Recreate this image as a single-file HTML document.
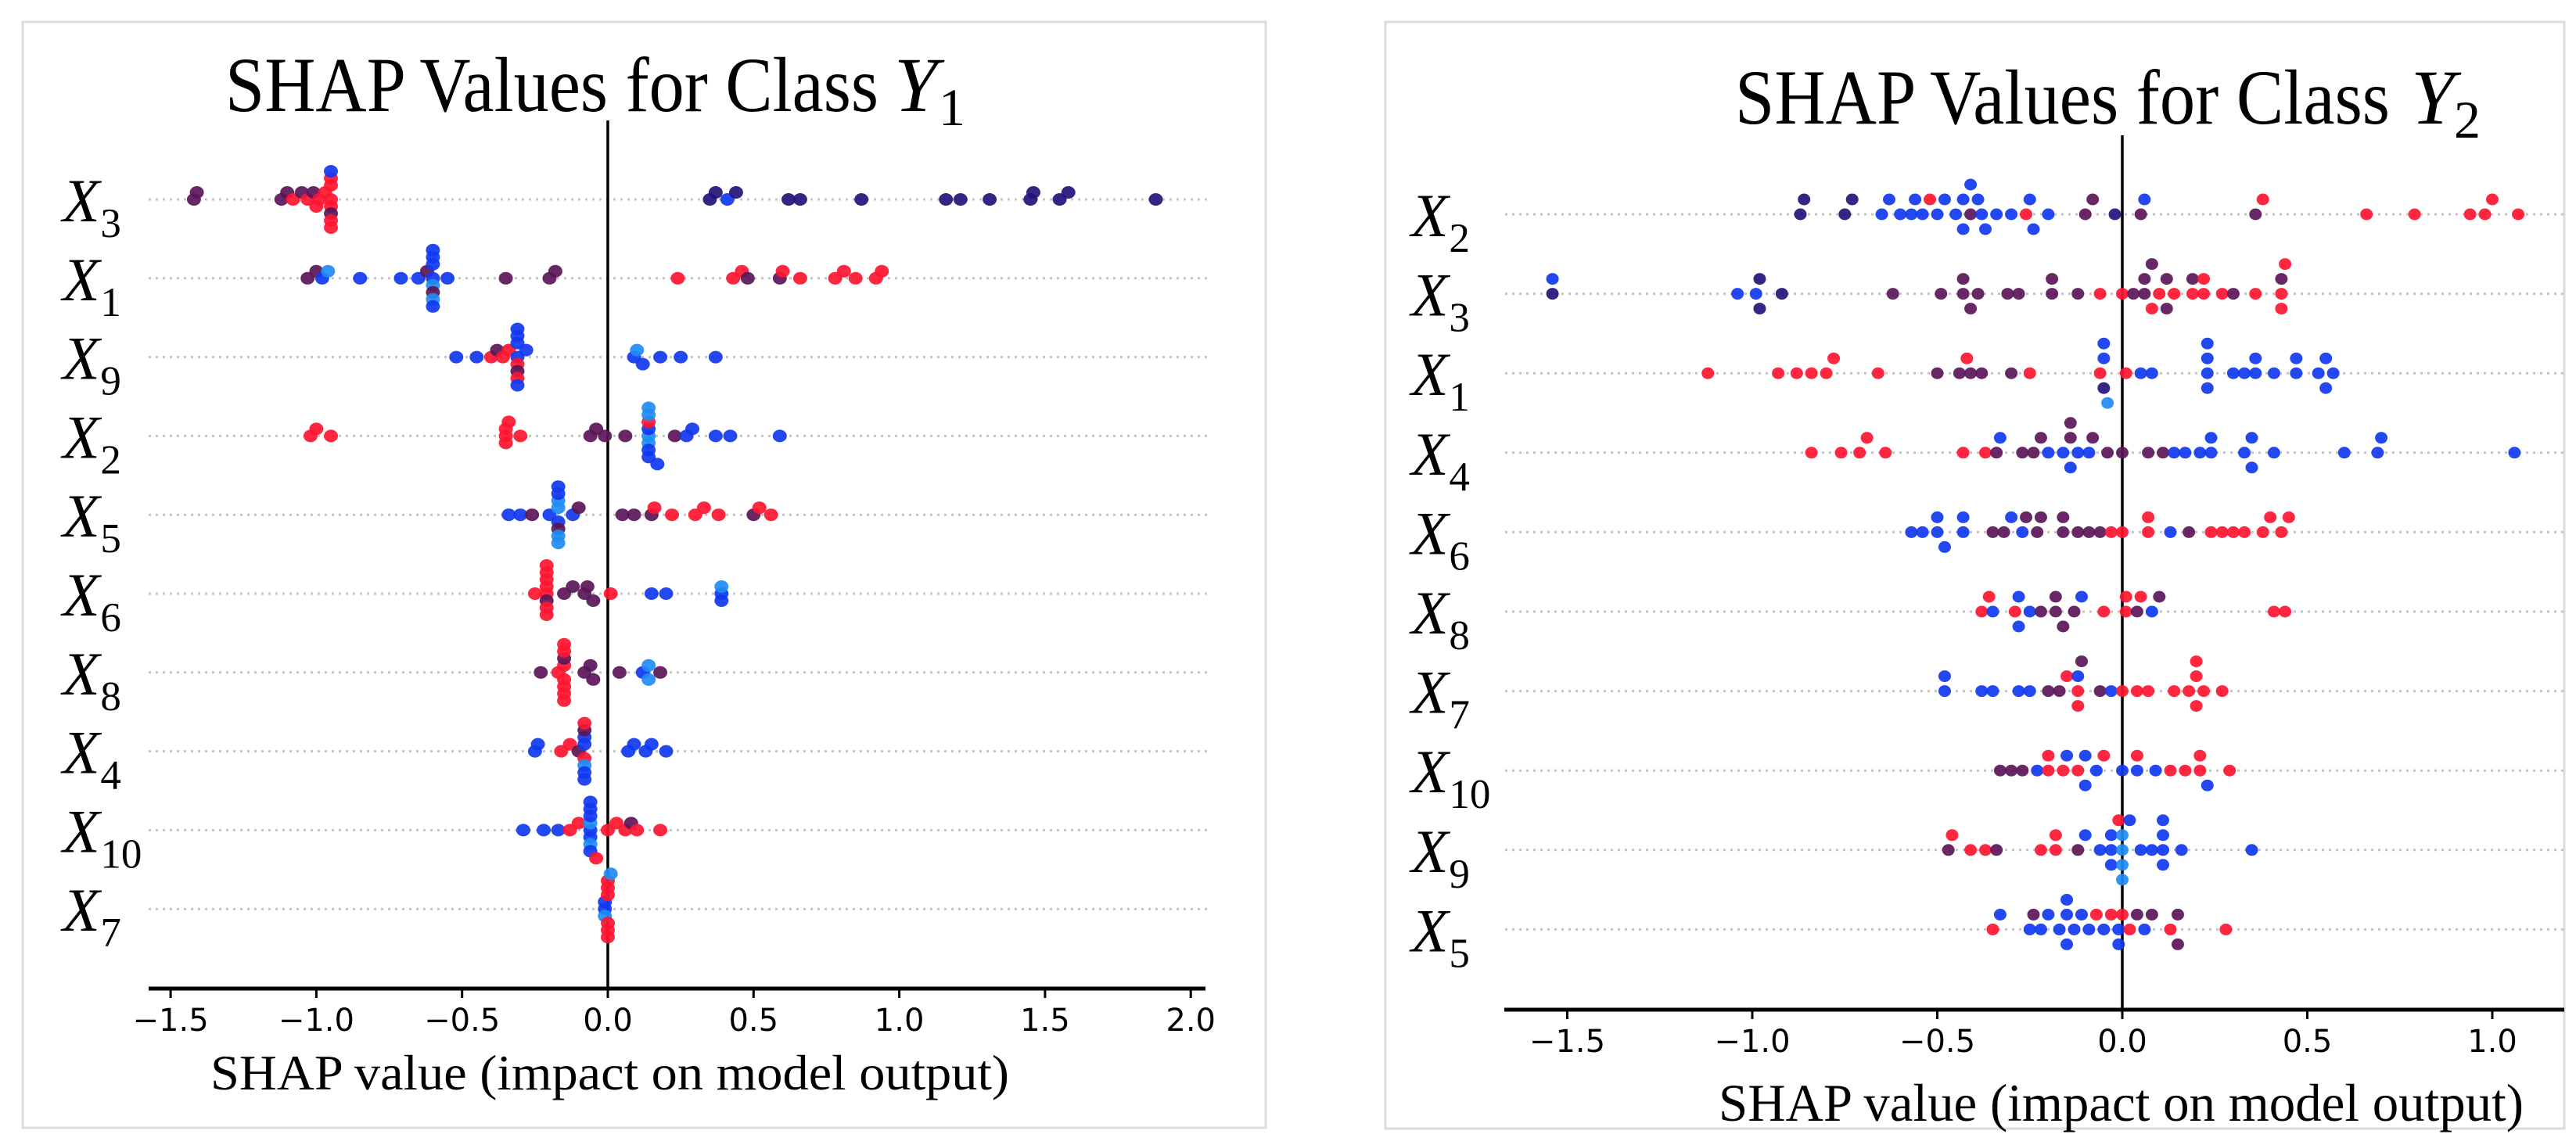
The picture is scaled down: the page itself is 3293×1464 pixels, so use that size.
<!DOCTYPE html>
<html><head><meta charset="utf-8"><title>SHAP Values</title>
<style>
html,body{margin:0;padding:0;background:#fff;}
svg{display:block;}
.tick{font-family:"DejaVu Sans","Liberation Sans",sans-serif;font-size:40px;fill:#000;}
.serif{font-family:"Liberation Serif",serif;fill:#000;}
</style></head>
<body>
<svg id="chart" width="3293" height="1464" viewBox="0 0 3293 1464" xmlns="http://www.w3.org/2000/svg">
<rect x="0" y="0" width="3293" height="1464" fill="#fff"/>
<rect x="29" y="28" width="1589" height="1414" fill="none" stroke="#dcdcdc" stroke-width="3"/>
<rect x="1771" y="28" width="1507" height="1415" fill="none" stroke="#dcdcdc" stroke-width="3"/>
<g id="left"></g>
<g id="right"></g>
</svg>
<script>
// ---------- Data: Class Y1 ----------
const y1Features = ["3","1","9","2","5","6","8","4","10","7"];
const y1Ticks = [-1.5,-1.0,-0.5,0.0,0.5,1.0,1.5,2.0];
const y1TickLabels = ["\u22121.5","\u22121.0","\u22120.5","0.0","0.5","1.0","1.5","2.0"];
const y1_X3 = [[-1.42,"p"],[-1.41,"p"],[-1.12,"p"],[-1.10,"p"],[-1.08,"r"],[-1.05,"p"],[-1.03,"r"],[-1.01,"p"],[-1.0,"r"],[-0.99,"r"],[-0.97,"r"],[-0.95,"r"],[-0.95,"r"],[-0.95,"r"],[-0.95,"p"],[-0.95,"r"],[-0.95,"r"],[-0.95,"b"],[-0.95,"r"],[0.35,"n"],[0.37,"n"],[0.41,"b"],[0.44,"n"],[0.62,"n"],[0.66,"n"],[0.87,"n"],[1.16,"n"],[1.21,"n"],[1.31,"n"],[1.45,"n"],[1.46,"n"],[1.55,"n"],[1.58,"n"],[1.88,"n"]];
const y1_X1 = [[-1.03,"p"],[-1.0,"p"],[-0.98,"b"],[-0.96,"c"],[-0.85,"b"],[-0.71,"b"],[-0.65,"b"],[-0.62,"p"],[-0.60,"b"],[-0.60,"c"],[-0.60,"b"],[-0.60,"p"],[-0.60,"b"],[-0.60,"c"],[-0.60,"b"],[-0.60,"b"],[-0.55,"b"],[-0.35,"p"],[-0.2,"p"],[-0.18,"p"],[0.24,"r"],[0.43,"r"],[0.46,"r"],[0.48,"p"],[0.59,"p"],[0.6,"r"],[0.66,"r"],[0.78,"r"],[0.81,"r"],[0.85,"r"],[0.92,"r"],[0.94,"r"]];
const y1_X9 = [[-0.52,"b"],[-0.45,"b"],[-0.40,"r"],[-0.38,"p"],[-0.36,"r"],[-0.34,"r"],[-0.31,"b"],[-0.31,"r"],[-0.31,"b"],[-0.31,"p"],[-0.31,"b"],[-0.31,"r"],[-0.31,"b"],[-0.31,"b"],[-0.28,"b"],[0.09,"b"],[0.10,"c"],[0.12,"b"],[0.18,"b"],[0.25,"b"],[0.37,"b"]];
const y1_X2 = [[-1.02,"r"],[-1.0,"r"],[-0.95,"r"],[-0.35,"r"],[-0.35,"r"],[-0.35,"r"],[-0.34,"r"],[-0.3,"r"],[-0.06,"p"],[-0.04,"p"],[-0.01,"p"],[0.06,"p"],[0.14,"c"],[0.14,"b"],[0.14,"c"],[0.14,"r"],[0.14,"b"],[0.14,"c"],[0.14,"b"],[0.14,"c"],[0.17,"b"],[0.23,"p"],[0.27,"b"],[0.29,"b"],[0.37,"b"],[0.42,"b"],[0.59,"b"]];
const y1_X5 = [[-0.34,"b"],[-0.3,"b"],[-0.26,"p"],[-0.2,"b"],[-0.17,"c"],[-0.17,"b"],[-0.17,"c"],[-0.17,"p"],[-0.17,"b"],[-0.17,"c"],[-0.17,"b"],[-0.17,"c"],[-0.12,"b"],[-0.1,"p"],[0.05,"p"],[0.09,"p"],[0.15,"p"],[0.16,"r"],[0.22,"r"],[0.3,"r"],[0.33,"r"],[0.38,"r"],[0.5,"p"],[0.52,"r"],[0.56,"r"]];
const y1_X6 = [[-0.25,"r"],[-0.21,"r"],[-0.21,"r"],[-0.21,"p"],[-0.21,"r"],[-0.21,"r"],[-0.21,"r"],[-0.21,"r"],[-0.21,"r"],[-0.15,"p"],[-0.12,"p"],[-0.08,"p"],[-0.07,"p"],[-0.05,"p"],[0.01,"r"],[0.15,"b"],[0.2,"b"],[0.39,"b"],[0.39,"c"],[0.39,"b"]];
const y1_X8 = [[-0.23,"p"],[-0.17,"r"],[-0.15,"r"],[-0.15,"r"],[-0.15,"p"],[-0.15,"r"],[-0.15,"r"],[-0.15,"r"],[-0.15,"r"],[-0.15,"r"],[-0.08,"p"],[-0.06,"p"],[-0.05,"p"],[0.04,"p"],[0.12,"b"],[0.14,"c"],[0.14,"c"],[0.18,"p"]];
const y1_X4 = [[-0.25,"b"],[-0.24,"b"],[-0.16,"r"],[-0.13,"r"],[-0.1,"p"],[-0.08,"b"],[-0.08,"r"],[-0.08,"b"],[-0.08,"c"],[-0.08,"p"],[-0.08,"b"],[-0.08,"r"],[-0.08,"b"],[0.07,"b"],[0.09,"b"],[0.13,"b"],[0.15,"b"],[0.2,"b"]];
const y1_X10 = [[-0.29,"b"],[-0.22,"b"],[-0.17,"b"],[-0.13,"r"],[-0.1,"r"],[-0.06,"b"],[-0.06,"c"],[-0.06,"b"],[-0.06,"b"],[-0.06,"c"],[-0.06,"b"],[-0.06,"b"],[-0.06,"b"],[-0.04,"r"],[0.0,"r"],[0.03,"r"],[0.06,"r"],[0.08,"p"],[0.1,"r"],[0.18,"r"]];
const y1_X7 = [[-0.01,"b"],[-0.01,"b"],[-0.01,"c"],[0.0,"r"],[0.0,"r"],[0.0,"r"],[0.0,"r"],[0.0,"r"],[0.0,"r"],[0.01,"c"]];
const y1Rows = [y1_X3,y1_X1,y1_X9,y1_X2,y1_X5,y1_X6,y1_X8,y1_X4,y1_X10,y1_X7];

// ---------- Data: Class Y2 ----------
const y2Features = ["2","3","1","4","6","8","7","10","9","5"];
const y2Ticks = [-1.5,-1.0,-0.5,0.0,0.5,1.0];
const y2TickLabels = ["\u22121.5","\u22121.0","\u22120.5","0.0","0.5","1.0"];
const y2_X2 = [[-0.87,"n"],[-0.86,"n"],[-0.75,"n"],[-0.73,"n"],[-0.65,"b"],[-0.63,"b"],[-0.6,"b"],[-0.57,"b"],[-0.56,"b"],[-0.54,"b"],[-0.52,"r"],[-0.5,"b"],[-0.48,"b"],[-0.45,"b"],[-0.43,"b"],[-0.43,"b"],[-0.41,"p"],[-0.41,"b"],[-0.39,"b"],[-0.38,"b"],[-0.37,"b"],[-0.34,"b"],[-0.3,"b"],[-0.26,"r"],[-0.25,"b"],[-0.24,"b"],[-0.2,"b"],[-0.1,"p"],[-0.08,"p"],[-0.02,"n"],[0.05,"p"],[0.06,"b"],[0.36,"p"],[0.38,"r"],[0.66,"r"],[0.79,"r"],[0.94,"r"],[0.98,"r"],[1.0,"r"],[1.07,"r"]];
const y2_X3 = [[-1.54,"n"],[-1.54,"b"],[-1.04,"b"],[-0.99,"b"],[-0.98,"n"],[-0.98,"n"],[-0.92,"n"],[-0.62,"p"],[-0.49,"p"],[-0.43,"p"],[-0.43,"p"],[-0.41,"p"],[-0.39,"p"],[-0.31,"p"],[-0.28,"p"],[-0.19,"p"],[-0.19,"p"],[-0.12,"p"],[-0.06,"r"],[0.0,"r"],[0.03,"p"],[0.06,"p"],[0.06,"p"],[0.08,"r"],[0.08,"p"],[0.1,"r"],[0.12,"p"],[0.12,"p"],[0.14,"r"],[0.19,"r"],[0.19,"p"],[0.22,"r"],[0.22,"r"],[0.27,"r"],[0.3,"p"],[0.36,"r"],[0.43,"r"],[0.43,"p"],[0.43,"r"],[0.44,"r"]];
const y2_X1 = [[-1.12,"r"],[-0.93,"r"],[-0.88,"r"],[-0.84,"r"],[-0.8,"r"],[-0.78,"r"],[-0.66,"r"],[-0.5,"p"],[-0.44,"p"],[-0.42,"r"],[-0.41,"p"],[-0.38,"p"],[-0.3,"p"],[-0.25,"r"],[-0.06,"r"],[-0.05,"b"],[-0.05,"n"],[-0.05,"b"],[-0.04,"c"],[0.01,"r"],[0.05,"b"],[0.08,"b"],[0.23,"b"],[0.23,"b"],[0.23,"b"],[0.23,"b"],[0.3,"b"],[0.33,"b"],[0.36,"b"],[0.36,"b"],[0.41,"b"],[0.47,"b"],[0.47,"b"],[0.53,"b"],[0.55,"b"],[0.55,"b"],[0.57,"b"]];
const y2_X4 = [[-0.84,"r"],[-0.76,"r"],[-0.71,"r"],[-0.69,"r"],[-0.64,"r"],[-0.43,"r"],[-0.37,"r"],[-0.34,"p"],[-0.33,"b"],[-0.27,"p"],[-0.24,"p"],[-0.22,"p"],[-0.2,"b"],[-0.16,"b"],[-0.14,"p"],[-0.14,"b"],[-0.14,"p"],[-0.12,"b"],[-0.09,"b"],[-0.08,"p"],[-0.04,"p"],[0.0,"p"],[0.07,"p"],[0.11,"p"],[0.14,"b"],[0.17,"b"],[0.21,"b"],[0.24,"b"],[0.24,"b"],[0.33,"b"],[0.35,"b"],[0.35,"b"],[0.41,"b"],[0.6,"b"],[0.69,"b"],[0.7,"b"],[1.06,"b"]];
const y2_X6 = [[-0.57,"b"],[-0.54,"b"],[-0.5,"b"],[-0.5,"b"],[-0.48,"b"],[-0.43,"b"],[-0.43,"b"],[-0.35,"p"],[-0.32,"p"],[-0.3,"b"],[-0.27,"b"],[-0.26,"p"],[-0.23,"p"],[-0.22,"p"],[-0.16,"p"],[-0.16,"p"],[-0.12,"p"],[-0.09,"p"],[-0.06,"p"],[-0.03,"r"],[0.0,"r"],[0.07,"r"],[0.07,"r"],[0.13,"b"],[0.18,"p"],[0.24,"r"],[0.27,"r"],[0.3,"r"],[0.33,"r"],[0.38,"r"],[0.4,"r"],[0.43,"r"],[0.45,"r"]];
const y2_X8 = [[-0.38,"r"],[-0.36,"r"],[-0.35,"b"],[-0.29,"r"],[-0.28,"b"],[-0.28,"b"],[-0.25,"b"],[-0.22,"p"],[-0.18,"p"],[-0.18,"p"],[-0.16,"p"],[-0.13,"p"],[-0.11,"b"],[-0.05,"r"],[0.01,"r"],[0.01,"r"],[0.04,"p"],[0.05,"r"],[0.08,"b"],[0.1,"p"],[0.41,"r"],[0.44,"r"]];
const y2_X7 = [[-0.48,"b"],[-0.48,"b"],[-0.38,"b"],[-0.35,"b"],[-0.28,"b"],[-0.25,"b"],[-0.2,"p"],[-0.17,"p"],[-0.15,"r"],[-0.12,"r"],[-0.12,"b"],[-0.12,"r"],[-0.11,"p"],[-0.06,"p"],[-0.03,"b"],[0.0,"r"],[0.04,"r"],[0.07,"r"],[0.14,"r"],[0.18,"r"],[0.2,"r"],[0.2,"r"],[0.2,"r"],[0.22,"r"],[0.27,"r"]];
const y2_X10 = [[-0.33,"p"],[-0.3,"p"],[-0.27,"p"],[-0.23,"b"],[-0.2,"r"],[-0.2,"r"],[-0.16,"r"],[-0.15,"b"],[-0.12,"r"],[-0.1,"b"],[-0.1,"b"],[-0.07,"b"],[-0.05,"r"],[0.0,"b"],[0.04,"b"],[0.04,"r"],[0.09,"b"],[0.13,"r"],[0.17,"r"],[0.21,"r"],[0.21,"r"],[0.23,"b"],[0.29,"r"]];
const y2_X9 = [[-0.47,"p"],[-0.46,"r"],[-0.41,"r"],[-0.37,"r"],[-0.34,"p"],[-0.22,"r"],[-0.18,"r"],[-0.18,"r"],[-0.12,"p"],[-0.1,"b"],[-0.06,"b"],[-0.03,"b"],[-0.03,"b"],[-0.03,"b"],[-0.01,"r"],[0.0,"c"],[0.0,"c"],[0.0,"c"],[0.0,"c"],[0.02,"b"],[0.05,"b"],[0.08,"b"],[0.11,"b"],[0.11,"b"],[0.11,"b"],[0.11,"b"],[0.16,"b"],[0.35,"b"]];
const y2_X5 = [[-0.35,"r"],[-0.33,"b"],[-0.25,"b"],[-0.24,"p"],[-0.22,"b"],[-0.2,"b"],[-0.17,"b"],[-0.15,"b"],[-0.15,"b"],[-0.15,"b"],[-0.13,"b"],[-0.11,"b"],[-0.09,"b"],[-0.07,"r"],[-0.05,"b"],[-0.03,"r"],[-0.01,"b"],[-0.01,"b"],[0.0,"r"],[0.02,"r"],[0.04,"p"],[0.06,"b"],[0.08,"p"],[0.13,"r"],[0.15,"p"],[0.15,"p"],[0.28,"r"]];
const y2Rows = [y2_X2,y2_X3,y2_X1,y2_X4,y2_X6,y2_X8,y2_X7,y2_X10,y2_X9,y2_X5];

const COLORS = {r:"#ff1530", b:"#1038f0", p:"#5a1658", n:"#23147a", c:"#1e8cf5"};
const NS = "http://www.w3.org/2000/svg";
function mk(tag, attrs, parent){
  const e = document.createElementNS(NS, tag);
  for (const k in attrs) e.setAttribute(k, attrs[k]);
  parent.appendChild(e);
  return e;
}

function drawPanel(g, cfg, features, rows, ticks, tickLabels, sub){
  const xs = v => cfg.zeroX + v*cfg.unit;
  const ys = i => cfg.row0 + i*cfg.rowStep;
  const t1 = mk("text", {x:cfg.titleX, y:cfg.titleY, "font-size":cfg.titleSize, textLength:cfg.titleLen, lengthAdjust:"spacingAndGlyphs", class:"serif"}, g);
  
  
  t1.textContent = "SHAP Values for Class";
  const t2 = mk("text", {x:cfg.titleYX, y:cfg.titleY, "font-size":cfg.titleSize, "font-style":"italic", class:"serif"}, g);
  
  
  t2.textContent = "Y";
  const t3 = mk("text", {x:cfg.titleSubX, y:cfg.titleY+18, "font-size":cfg.titleSize*0.68, class:"serif"}, g);
  
  
  t3.textContent = sub;
  features.forEach((f,i)=>{
    const gl = mk("line", {x1:cfg.gridX1, x2:cfg.gridX2, y1:ys(i), y2:ys(i), stroke:"#c4c4c4", "stroke-width":3, "stroke-dasharray":"3 6"}, g);
    
    
    const lx = mk("text", {x:cfg.labelX, y:ys(i)+28, "font-size":cfg.labelSize, "font-style":"italic", class:"serif"}, g);
    
    
    lx.textContent = "X";
    const ls = mk("text", {x:cfg.labelX+cfg.labelSize*0.62, y:ys(i)+48, "font-size":cfg.labelSize*0.68, class:"serif"}, g);
    
    
    ls.textContent = f;
  });
  const zl = mk("line", {x1:xs(0), x2:xs(0), y1:cfg.zeroTop, y2:cfg.axisY, stroke:"#000", "stroke-width":3.5}, g);
  
  
  rows.forEach((pts,i)=>{
    const sorted = pts.slice().sort((a,b)=>a[0]-b[0]);
    const placed = [];
    sorted.forEach(p=>{
      const px = xs(p[0]);
      let k = 0, off = 0;
      for (;;) {
        off = (k===0)?0:((k%2===1)?-Math.ceil(k/2):Math.ceil(k/2));
        const clash = placed.some(q=>q.off===off && Math.abs(q.x-px)<cfg.minDx);
        if (!clash) break;
        k++;
      }
      placed.push({x:px, off:off});
      const c = mk("ellipse", {cx:px, cy:ys(i)+off*cfg.stackStep, rx:cfg.rx, ry:cfg.ry, fill:COLORS[p[1]], "fill-opacity":0.92}, g);
      
      
    });
  });
  const ax = mk("line", {x1:cfg.axisX1, x2:cfg.axisX2, y1:cfg.axisY, y2:cfg.axisY, stroke:"#000", "stroke-width":5}, g);
  
  
  ticks.forEach((v,j)=>{
    const tk = mk("line", {x1:xs(v), x2:xs(v), y1:cfg.axisY, y2:cfg.axisY+12, stroke:"#000", "stroke-width":3}, g);
    
    
    const tl = mk("text", {x:xs(v), y:cfg.axisY+54, "text-anchor":"middle", class:"tick"}, g);
    
    
    tl.textContent = tickLabels[j];
  });
  const xl = mk("text", {x:cfg.xlabX, y:cfg.xlabY, "font-size":cfg.xlabSize, textLength:cfg.xlabLen, lengthAdjust:"spacingAndGlyphs", class:"serif"}, g);
  
  
  xl.textContent = "SHAP value (impact on model output)";
}

drawPanel(document.getElementById("left"), {
  zeroX:777, unit:372.6, row0:255, rowStep:100.8, gridX1:190, gridX2:1543,
  labelX:80, labelSize:78, zeroTop:154, axisY:1264, axisX1:190, axisX2:1541,
  titleX:288, titleY:142, titleSize:100, titleLen:835, titleYX:1143, titleSubX:1200,
  xlabX:269, xlabY:1393, xlabSize:64, xlabLen:1021,
  rx:9, ry:8, minDx:12, stackStep:9
}, y1Features, y1Rows, y1Ticks, y1TickLabels, "1");

drawPanel(document.getElementById("right"), {
  zeroX:2713, unit:473, row0:274, rowStep:101.6, gridX1:1924, gridX2:3280,
  labelX:1804, labelSize:78, zeoTop:173, zeroTop:173, axisY:1291, axisX1:1923, axisX2:3278,
  titleX:2218, titleY:158, titleSize:100, titleLen:837, titleYX:3082, titleSubX:3137,
  xlabX:2197, xlabY:1433, xlabSize:68, xlabLen:1029,
  rx:8, ry:7.5, minDx:14, stackStep:19
}, y2Features, y2Rows, y2Ticks, y2TickLabels, "2");
</script>
</body></html>
